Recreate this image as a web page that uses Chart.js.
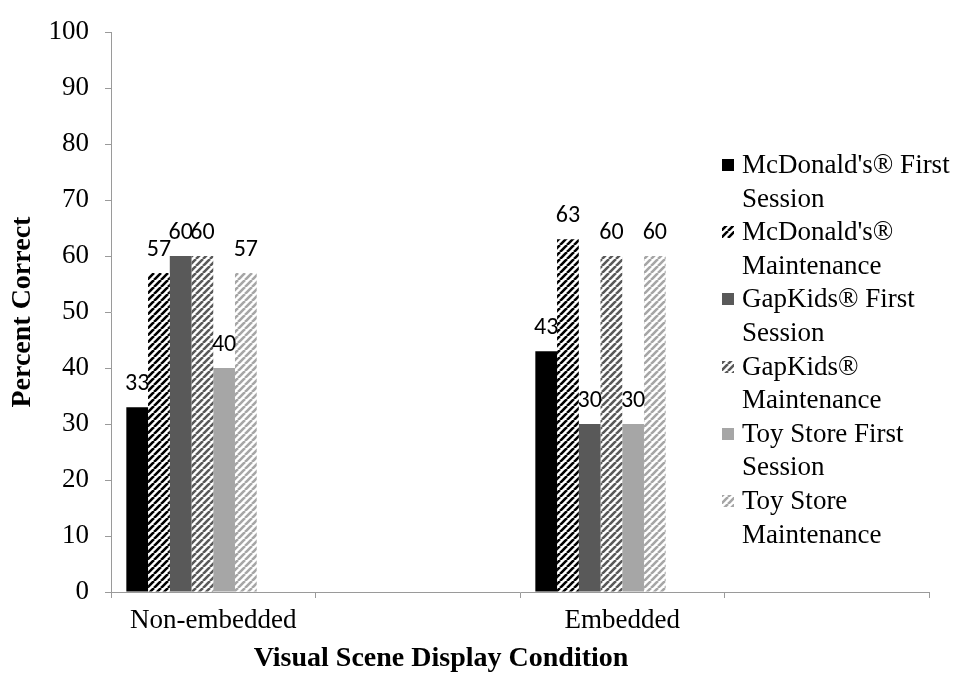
<!DOCTYPE html>
<html>
<head>
<meta charset="utf-8">
<script src="https://cdn.jsdelivr.net/npm/chart.js@4/dist/chart.umd.min.js"></script>
<style>
  html, body { margin: 0; padding: 0; background: #ffffff; }
  canvas { display: block; }
</style>
</head>
<body>
<canvas id="chart" width="956" height="677"></canvas>
<script>
// Condition categories (two unlabeled slots keep the right-hand spacing)
const categories = ['Non-embedded', '', 'Embedded', ''];

// Percent correct per series, one value per category slot
const mcdonaldsFirst       = [33, null, 43, null];
const mcdonaldsMaintenance = [57, null, 63, null];
const gapkidsFirst         = [60, null, 30, null];
const gapkidsMaintenance   = [60, null, 60, null];
const toyStoreFirst        = [40, null, 30, null];
const toyStoreMaintenance  = [57, null, 60, null];
const emptySlot            = [null, null, null, null];

// Legend names, split into the lines they are printed on
const seriesNames = [
  ["McDonald's\u00AE First", 'Session'],
  ["McDonald's\u00AE", 'Maintenance'],
  ['GapKids\u00AE First', 'Session'],
  ['GapKids\u00AE', 'Maintenance'],
  ['Toy Store First', 'Session'],
  ['Toy Store', 'Maintenance']
];

const yMin = 0, yMax = 100, yStep = 10;
const xTitle = 'Visual Scene Display Condition';
const yTitle = 'Percent Correct';

const SERIF = '"Liberation Serif", "Times New Roman", "DejaVu Serif", serif';
const SANS = '"Carlito", "Noto Sans", "Liberation Sans", sans-serif';
const AXIS_GREY = '#9a9a9a';

// Diagonal white/colour stripe fill
function stripes(color) {
  const s = 7;
  const c = document.createElement('canvas');
  c.width = s; c.height = s;
  const g = c.getContext('2d');
  g.fillStyle = '#ffffff';
  g.fillRect(0, 0, s, s);
  g.strokeStyle = color;
  g.lineWidth = 2.6;
  g.beginPath();
  for (let k = -1; k <= 1; k++) {
    g.moveTo(k * s, s);
    g.lineTo(k * s + s, 0);
  }
  g.stroke();
  return g.createPattern(c, 'repeat');
}

const fills = [
  '#000000',
  stripes('#000000'),
  '#595959',
  stripes('#595959'),
  '#a6a6a6',
  stripes('#a6a6a6')
];

const seriesValues = [
  mcdonaldsFirst, mcdonaldsMaintenance,
  gapkidsFirst, gapkidsMaintenance,
  toyStoreFirst, toyStoreMaintenance
];

const datasets = seriesValues.map((vals, i) => ({
  label: seriesNames[i].join(' '),
  data: vals,
  backgroundColor: fills[i],
  borderWidth: 0,
  showValue: true
}));
// two empty series after the six shown ones
datasets.push({ label: '', data: emptySlot, backgroundColor: 'transparent', showValue: false });
datasets.push({ label: '', data: emptySlot, backgroundColor: 'transparent', showValue: false });

// Value labels above each bar
const valueLabels = {
  id: 'valueLabels',
  afterDatasetsDraw(chart) {
    const ctx = chart.ctx;
    ctx.save();
    ctx.font = '24px ' + SANS;
    ctx.fillStyle = '#000000';
    ctx.textAlign = 'center';
    ctx.textBaseline = 'alphabetic';
    chart.data.datasets.forEach((ds, di) => {
      if (!ds.showValue) return;
      const meta = chart.getDatasetMeta(di);
      meta.data.forEach((bar, idx) => {
        const v = ds.data[idx];
        if (v === null || v === undefined) return;
        ctx.fillText(String(v), bar.x, bar.y - 17);
      });
    });
    ctx.restore();
  }
};

// Right-hand legend with wrapped names, plus both axis titles
const sideLegendAndTitles = {
  id: 'sideLegendAndTitles',
  afterDraw(chart) {
    const ctx = chart.ctx;
    const area = chart.chartArea;
    ctx.save();

    // legend
    const boxX = 722, textX = 742, firstLine = 165, lineStep = 33.6, box = 12;
    ctx.font = '27px ' + SERIF;
    ctx.fillStyle = '#000000';
    ctx.textAlign = 'left';
    ctx.textBaseline = 'middle';
    let line = 0;
    seriesNames.forEach((lines, i) => {
      const y0 = firstLine + line * lineStep;
      ctx.fillStyle = fills[i];
      ctx.fillRect(boxX, Math.round(y0 - box / 2), box, box);
      ctx.fillStyle = '#000000';
      lines.forEach((t, j) => {
        ctx.fillText(t, textX, y0 + j * lineStep + 1);
      });
      line += lines.length;
    });

    // axis titles
    ctx.font = 'bold 28px ' + SERIF;
    ctx.textAlign = 'center';
    ctx.textBaseline = 'middle';
    ctx.fillText(xTitle, 441, 659);

    ctx.translate(23, (area.top + area.bottom) / 2);
    ctx.rotate(-Math.PI / 2);
    ctx.fillText(yTitle, 0, 0);
    ctx.restore();
  }
};

new Chart(document.getElementById('chart'), {
  type: 'bar',
  data: { labels: categories, datasets: datasets },
  options: {
    responsive: false,
    animation: false,
    devicePixelRatio: 1,
    layout: { padding: { top: 30, right: 27, bottom: 0, left: 0 } },
    datasets: { bar: { categoryPercentage: 0.85, barPercentage: 1.0 } },
    plugins: {
      legend: { display: false },
      tooltip: { enabled: false }
    },
    scales: {
      x: {
        grid: { offset: true, drawOnChartArea: false, drawTicks: true, tickLength: 6, color: AXIS_GREY },
        border: { display: true, color: AXIS_GREY, width: 1 },
        ticks: { font: { family: SERIF, size: 27 }, color: '#000000', padding: 7, maxRotation: 0, autoSkip: false },
        afterFit(scale) { scale.height = 85; }
      },
      y: {
        min: yMin,
        max: yMax,
        grid: { drawOnChartArea: false, drawTicks: true, tickLength: 6, color: AXIS_GREY },
        border: { display: true, color: AXIS_GREY, width: 1 },
        ticks: { stepSize: yStep, font: { family: SERIF, size: 27 }, color: '#000000', padding: 16 },
        afterFit(scale) { scale.width = 111; }
      }
    }
  },
  plugins: [valueLabels, sideLegendAndTitles]
});
</script>
</body>
</html>
